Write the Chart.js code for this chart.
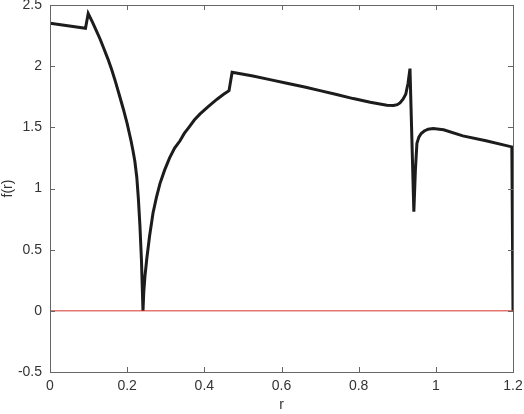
<!DOCTYPE html>
<html lang="en">
<head>
    <meta charset="UTF-8">
    <title>f(r)</title>
    <script src="https://cdn.jsdelivr.net/npm/chart.js"></script>
    <style>
        html, body { margin: 0; padding: 0; background: #fff; }
        #wrap { width: 524px; height: 414px; }
    </style>
</head>
<body>
    <div id="wrap"><canvas id="f-chart" width="524" height="414"></canvas></div>

    <script>
        // values
        const rVals = [0, 0.092, 0.099, 0.11, 0.12, 0.13, 0.14, 0.15, 0.16, 0.17, 0.18, 0.19,
                       0.20, 0.205, 0.21, 0.215, 0.22, 0.225, 0.229, 0.233, 0.237, 0.241,
                       0.243, 0.246, 0.251, 0.258, 0.267, 0.276, 0.285, 0.297, 0.31, 0.323,
                       0.337, 0.348, 0.36, 0.374, 0.389, 0.41, 0.433, 0.45, 0.464, 0.472,
                       0.526, 0.57, 0.614, 0.66, 0.70, 0.74, 0.786, 0.83, 0.855, 0.873, 0.89,
                       0.9, 0.907, 0.915, 0.922, 0.928, 0.933, 0.943, 0.947, 0.951, 0.956,
                       0.962, 0.97, 0.98, 0.993, 1.02, 1.07, 1.13, 1.197, 1.2];
        const fVals = [2.35, 2.31, 2.43, 2.36, 2.29, 2.22, 2.14, 2.06, 1.97, 1.87, 1.76, 1.65,
                       1.53, 1.46, 1.39, 1.31, 1.22, 1.09, 0.92, 0.70, 0.42, 0.0,
                       0.15, 0.28, 0.43, 0.61, 0.80, 0.93, 1.04, 1.15, 1.25, 1.33,
                       1.39, 1.45, 1.50, 1.56, 1.61, 1.67, 1.73, 1.77, 1.80, 1.95,
                       1.92, 1.89, 1.86, 1.83, 1.80, 1.77, 1.735, 1.705, 1.69, 1.68, 1.678,
                       1.685, 1.70, 1.73, 1.77, 1.86, 1.98, 0.81, 1.15, 1.37, 1.42,
                       1.45, 1.47, 1.485, 1.49, 1.48, 1.43, 1.39, 1.34, 0.0];
        const zeroR = [0, 1.2];
        const zeroF = [0, 0];
        const xTicks = [0, 0.2, 0.4, 0.6, 0.8, 1, 1.2];
        const yTicks = [-0.5, 0, 0.5, 1, 1.5, 2, 2.5];

        const axisColor = '#666';
        const textColor = '#333';
        const font = { family: 'Liberation Sans, Arial, sans-serif', size: 14 };

        // MATLAB-like box with inward ticks
        const boxTicks = {
            id: 'boxTicks',
            afterDraw(chart) {
                const { ctx, chartArea: a, scales } = chart;
                ctx.save();
                ctx.strokeStyle = axisColor;
                ctx.lineWidth = 1;
                ctx.strokeRect(a.left + 0.5, a.top + 0.5, a.right - a.left, a.bottom - a.top);
                ctx.beginPath();
                xTicks.forEach(v => {
                    const px = Math.round(scales.x.getPixelForValue(v)) + 0.5;
                    ctx.moveTo(px, a.bottom); ctx.lineTo(px, a.bottom - 5);
                    ctx.moveTo(px, a.top); ctx.lineTo(px, a.top + 5);
                });
                yTicks.forEach(v => {
                    const py = Math.round(scales.y.getPixelForValue(v)) + 0.5;
                    ctx.moveTo(a.left, py); ctx.lineTo(a.left + 5, py);
                    ctx.moveTo(a.right, py); ctx.lineTo(a.right - 5, py);
                });
                ctx.stroke();
                ctx.restore();
            }
        };

        new Chart(document.getElementById('f-chart'), {
            type: 'line',
            data: {
                datasets: [
                    {
                        data: zeroR.map((r, i) => ({ x: r, y: zeroF[i] })),
                        borderColor: '#d6332a',
                        borderWidth: 1,
                        pointRadius: 0,
                        fill: false
                    },
                    {
                        data: rVals.map((r, i) => ({ x: r, y: fVals[i] })),
                        borderColor: '#1c1c1c',
                        borderWidth: 3,
                        pointRadius: 0,
                        tension: 0,
                        fill: false
                    }
                ]
            },
            options: {
                responsive: false,
                animation: false,
                layout: { padding: { top: 5, right: 11, left: 0, bottom: 0 } },
                plugins: { legend: { display: false }, tooltip: { enabled: false } },
                scales: {
                    x: {
                        type: 'linear',
                        min: 0,
                        max: 1.2,
                        afterBuildTicks: s => { s.ticks = xTicks.map(v => ({ value: v })); },
                        afterFit: s => { s.height = 42; s.paddingLeft = 0; s.paddingRight = 0; },
                        grid: { display: false, drawTicks: false },
                        border: { display: false },
                        ticks: { color: textColor, font: font, padding: 6, maxRotation: 0,
                                 callback: v => String(v) },
                        title: { display: true, text: 'r', color: textColor, font: font, padding: 0 }
                    },
                    y: {
                        min: -0.5,
                        max: 2.5,
                        afterBuildTicks: s => { s.ticks = yTicks.map(v => ({ value: v })); },
                        afterFit: s => { s.width = 50; s.paddingTop = 0; s.paddingBottom = 0; },
                        grid: { display: false, drawTicks: false },
                        border: { display: false },
                        ticks: { color: textColor, font: font, padding: 8,
                                 callback: v => String(v) },
                        title: { display: true, text: 'f(r)', color: textColor, font: font, padding: 0 }
                    }
                }
            },
            plugins: [boxTicks]
        });
    </script>
</body>
</html>
